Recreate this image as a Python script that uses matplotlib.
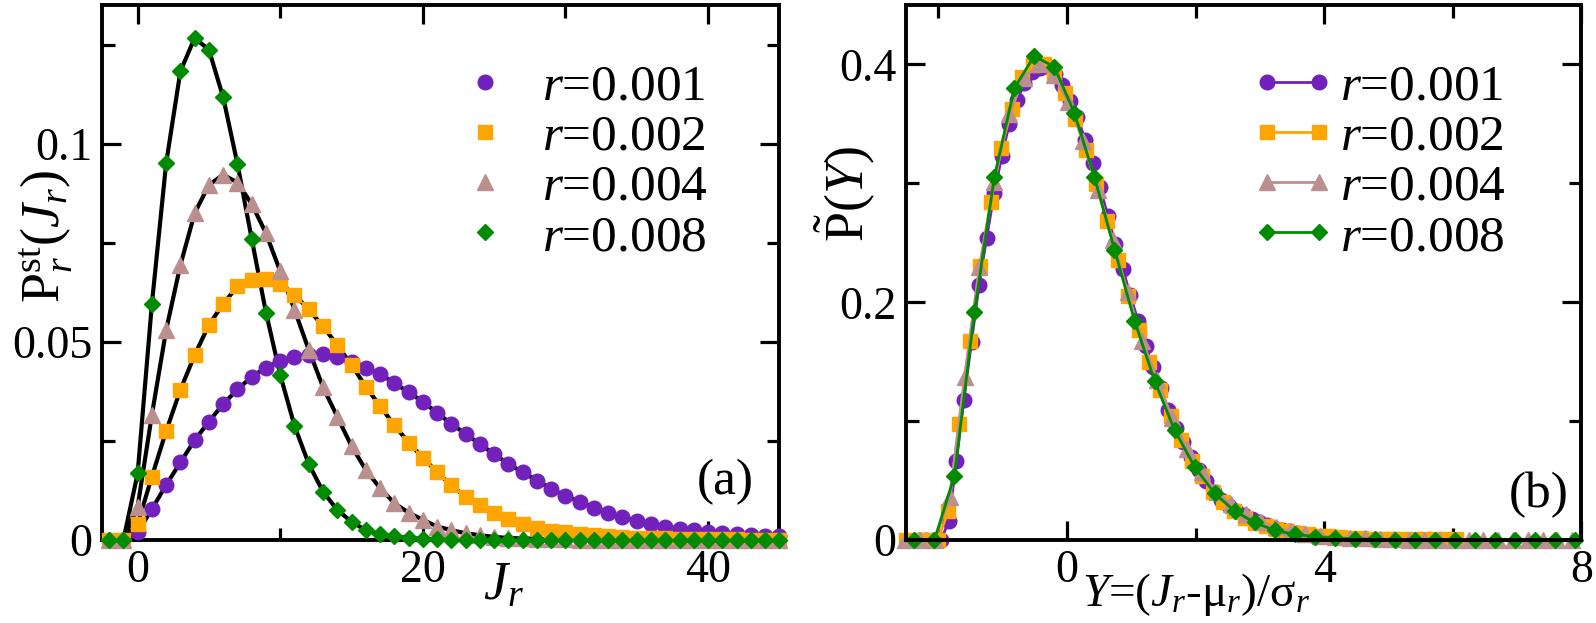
import numpy as np
import matplotlib
matplotlib.use('Agg')
import matplotlib.pyplot as plt

plt.rcParams['font.family'] = 'Liberation Serif'
plt.rcParams['mathtext.fontset'] = 'custom'
plt.rcParams['mathtext.rm'] = 'Liberation Serif'
plt.rcParams['mathtext.it'] = 'Liberation Serif:italic'
plt.rcParams['mathtext.bf'] = 'Liberation Serif:bold'

# current values J_r (integer grid)
J = list(range(-4, 49))

# stationary distributions, J = -4 ... 48
P_001 = [0, 0, 0, 0,
         0.0019, 0.0078, 0.0139, 0.0196, 0.0252, 0.0299, 0.0343, 0.0380, 0.0412, 0.0435,
         0.0452, 0.0463, 0.0467, 0.0469, 0.0461, 0.0450, 0.0434, 0.0419, 0.0396, 0.0373,
         0.0349, 0.0321, 0.0293, 0.0268, 0.0242, 0.0217, 0.0192, 0.0171, 0.0150, 0.0129,
         0.0111, 0.0097, 0.0082, 0.0069, 0.0058, 0.0048, 0.0040, 0.0034, 0.0029, 0.0025,
         0.0021, 0.0018, 0.0015, 0.0012, 0.0010, 0.0009, 0.0007, 0.0006, 0.0005]
P_002 = [0, 0, 0, 0,
         0.0040, 0.0160, 0.0275, 0.0379, 0.0467, 0.0543, 0.0596, 0.0640, 0.0657, 0.0658,
         0.0646, 0.0619, 0.0582, 0.0539, 0.0492, 0.0442, 0.0387, 0.0338, 0.0290, 0.0246,
         0.0208, 0.0171, 0.0138, 0.0109, 0.0088, 0.0067, 0.0052, 0.0040, 0.0030, 0.0024,
         0.0019, 0.0015, 0.0012, 0.0010, 0.0008, 0.0006, 0.0005, 0.0004, 0.0003, 0.0003,
         0.0002, 0.0002, 0.0002, 0.0001, 0.0001, 0.0001, 0.0001, 0.0001, 0.0001]
P_004 = [0, 0, 0, 0,
         0.0084, 0.0316, 0.0530, 0.0694, 0.0825, 0.0896, 0.0922, 0.0902, 0.0848, 0.0774,
         0.0678, 0.0581, 0.0480, 0.0386, 0.0311, 0.0237, 0.0177, 0.0131, 0.0093, 0.0069,
         0.0051, 0.0034, 0.0025, 0.0017, 0.0012, 0.0008, 0.0005, 0.0004, 0.0003, 0.0002,
         0.0002, 0.0001, 0.0001, 0.0001, 0, 0, 0, 0, 0, 0,
         0, 0, 0, 0, 0, 0, 0, 0, 0]
P_008 = [0, 0, 0, 0,
         0.0168, 0.0596, 0.0951, 0.1183, 0.1267, 0.1237, 0.1117, 0.0949, 0.0760, 0.0574,
         0.0417, 0.0288, 0.0192, 0.0122, 0.0076, 0.0046, 0.0025, 0.0015, 0.0009, 0.0005,
         0.0003, 0.0002, 0.0001, 0.0001, 0, 0, 0, 0, 0, 0,
         0, 0, 0, 0, 0, 0, 0, 0, 0, 0,
         0, 0, 0, 0, 0, 0, 0, 0, 0]

mu = [15.6, 11.2, 7.9, 5.62]
sigma = [8.5, 6.08, 4.34, 3.215]

labels = [r'$r$=0.001', r'$r$=0.002', r'$r$=0.004', r'$r$=0.008']
series = [P_001, P_002, P_004, P_008]

colors = ['#7221bc', '#ffa500', '#bc8f8f', '#008b00']
markers = ['o', 's', '^', 'D']
msizes = [10.5, 9.4, 12, 8.2]

fig = plt.figure(figsize=(15.96, 6.23), dpi=100)
ax1 = fig.add_axes([0.0639, 0.1332, 0.4244, 0.8587])
ax2 = fig.add_axes([0.5677, 0.1332, 0.4232, 0.8587])

Jarr = np.array(J, dtype=float)
mask1 = (Jarr >= -2.5) & (Jarr <= 45.05)

# panel (a): black curves, then symbols
for P in series:
    P = np.array(P)
    ax1.plot(Jarr[mask1], P[mask1], color='black', lw=3.0, zorder=2, clip_on=False)
for P, c, mk, ms, lab in zip(series, colors, markers, msizes, labels):
    P = np.array(P)
    ax1.plot(Jarr[mask1], P[mask1], ls='none', marker=mk, ms=ms, color=c,
             mec=c, zorder=3, clip_on=False, label=lab)

# panel (b): rescaled distributions
for P, m, s, c, mk, ms, lab in zip(series, mu, sigma, colors, markers, msizes, labels):
    Y = (Jarr - m) / s
    Pt = np.array(P) * s
    mask2 = (Y >= -2.55) & (Y <= 8.05)
    ax2.plot(Y[mask2], Pt[mask2], color=c, lw=2.0, marker=mk, ms=ms, mec=c,
             clip_on=False, label=lab)

ax1.set_xlim(-2.5, 45)
ax1.set_ylim(0, 0.135)
ax1.set_xticks([0, 20, 40])
ax1.set_xticklabels(['0', '20', '40'])
ax1.set_xticks([10, 30], minor=True)
ax1.set_yticks([0, 0.05, 0.1])
ax1.set_yticklabels(['0', '0.05', '0.1'])
ax1.set_yticks([0.025, 0.075, 0.125], minor=True)

ax2.set_xlim(-2.5, 8)
ax2.set_ylim(0, 0.45)
ax2.set_xticks([0, 4, 8])
ax2.set_xticklabels(['0', '4', '8'])
ax2.set_xticks([-2, 2, 6], minor=True)
ax2.set_yticks([0, 0.2, 0.4])
ax2.set_yticklabels(['0', '0.2', '0.4'])
ax2.set_yticks([0.1, 0.3], minor=True)

for ax in (ax1, ax2):
    ax.tick_params(which='both', direction='in', top=True, right=True,
                   width=2.3, labelsize=33, pad=7)
    ax.tick_params(which='major', length=14)
    ax.tick_params(which='minor', length=9)
    for sp in ax.spines.values():
        sp.set_linewidth(2.8)

ax1.legend(loc='upper left', bbox_to_anchor=(0.528, 0.89), frameon=False,
           fontsize=37, numpoints=1, handlelength=1.0, handletextpad=0.6,
           labelspacing=0.06, borderpad=0, borderaxespad=0)
ax2.legend(loc='upper left', bbox_to_anchor=(0.512, 0.89), frameon=False,
           fontsize=37, numpoints=2, handlelength=1.6, handletextpad=0.12,
           labelspacing=0.06, borderpad=0, borderaxespad=0)

ax1.text(0.920, 0.108, '(a)', transform=ax1.transAxes, fontsize=37,
         ha='center', va='center')
ax2.text(0.937, 0.084, '(b)', transform=ax2.transAxes, fontsize=37,
         ha='center', va='center')

# axis labels, placed like the original
fig.text(503 / 1596, 1 - 561 / 623, r'$J_r$', fontsize=39, ha='center', va='top')
fig.text(1196 / 1596, 1 - 594 / 623, r'$Y$=($J_r$-μ$_r$)/σ$_r$', fontsize=34,
         ha='center', va='center')
fig.text(47 / 1596, 1 - 237 / 623, r'$\mathrm{P}^{\mathrm{st}}_{r}(J_{r})$',
         fontsize=39, rotation=90, ha='center', va='center')
fig.text(845 / 1596, 1 - 194 / 623, r'$\tilde{\mathrm{P}}(Y)$',
         fontsize=39, rotation=90, ha='center', va='center')

fig.savefig('out.png', dpi=100)
